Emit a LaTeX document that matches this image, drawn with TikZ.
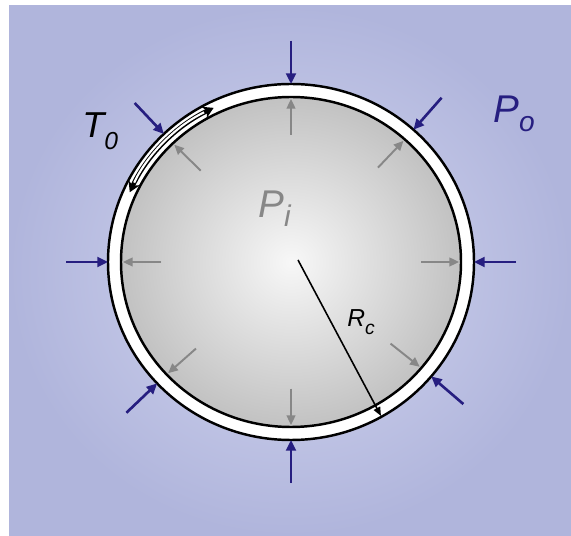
\documentclass[tikz,border=0pt]{standalone}
\usepackage{fontspec}
\setsansfont{Liberation Sans}
\usetikzlibrary{arrows.meta}

\definecolor{pblue}{RGB}{38,30,128}
\definecolor{pgray}{RGB}{135,135,135}
\definecolor{bgin}{RGB}{212,215,240}
\definecolor{bgout}{RGB}{176,181,220}

% label with a lowered subscript: main, sub, size, sub size, drop
\newcommand{\plbl}[5]{\fontsize{#3}{#3}\selectfont #1\raisebox{-#5}{\fontsize{#4}{#4}\selectfont #2}}

\begin{document}
\begin{tikzpicture}[
  x=0.02cm, y=-0.02cm,
  font=\sffamily\itshape,
  wall/.style={draw=black, line width=1.4pt},
  outpush/.style={-{Triangle[length=6pt, width=5.5pt]}, draw=pblue, fill=pblue, line width=1.5pt},
  inpush/.style={-{Triangle[length=5.5pt, width=5pt]}, draw=pgray, fill=pgray, line width=1.1pt},
  hoopline/.style={{Stealth[length=6pt, width=7pt]}-{Stealth[length=6pt, width=7pt]},
                   draw=black, line width=2.6pt},
  hoopcore/.style={draw=white, line width=1.2pt, shorten <=6pt, shorten >=6pt},
  radline/.style={-{Triangle[length=5pt, width=4pt]}, draw=black, line width=0.9pt},
  lbl/.style={inner sep=0pt, anchor=base west},
]
\useasboundingbox (0,0) rectangle (571,536);
\fill[white] (0,0) rectangle (571,536);
\shade[inner color=bgin, outer color=bgout] (9,6) rectangle (571,536);

\coordinate (c) at (291,262);

% shell and gas
\fill[white, wall] (c) ellipse [x radius=183, y radius=178];
\shade[inner color=black!3, outer color=black!24] (c) ellipse [x radius=170, y radius=165];
\draw[wall] (c) ellipse [x radius=170, y radius=165];

% outer and inner pressure
\foreach \a in {0,-48,-90,226,180,137,90,40} {
  \draw[outpush] ([shift={(c)}] \a:225 and 221) -- ([shift={(c)}] \a:183 and 178);
  \draw[inpush] ([shift={(c)}] \a:130 and 127) -- ([shift={(c)}] \a:168 and 163);
}

% tension in the shell
\coordinate (t0a) at ([shift={(c)}] 244:176.5 and 171.5);
\draw[hoopline] (t0a) arc[start angle=244, end angle=204, x radius=176.5, y radius=171.5];
\draw[hoopcore] (t0a) arc[start angle=244, end angle=204, x radius=176.5, y radius=171.5];

% radius
\coordinate (rc0) at (298,260);
\coordinate (rc1) at (381,416);
\draw[radline] (rc0) -- (rc1);

\node[lbl, text=black] (tzero) at (82,138) {\plbl{T}{0}{20.5pt}{14pt}{6.5pt}};
\node[lbl, text=pblue] (pout) at (493,123) {\plbl{P}{o}{22pt}{16pt}{5pt}};
\node[lbl, text=pgray] (pin) at (258,218) {\plbl{P}{i}{22pt}{17pt}{5pt}};
\node[lbl, text=black] (rclbl) at (347,327) {\plbl{R}{c}{14pt}{11pt}{4.5pt}};
\end{tikzpicture}
\end{document}
